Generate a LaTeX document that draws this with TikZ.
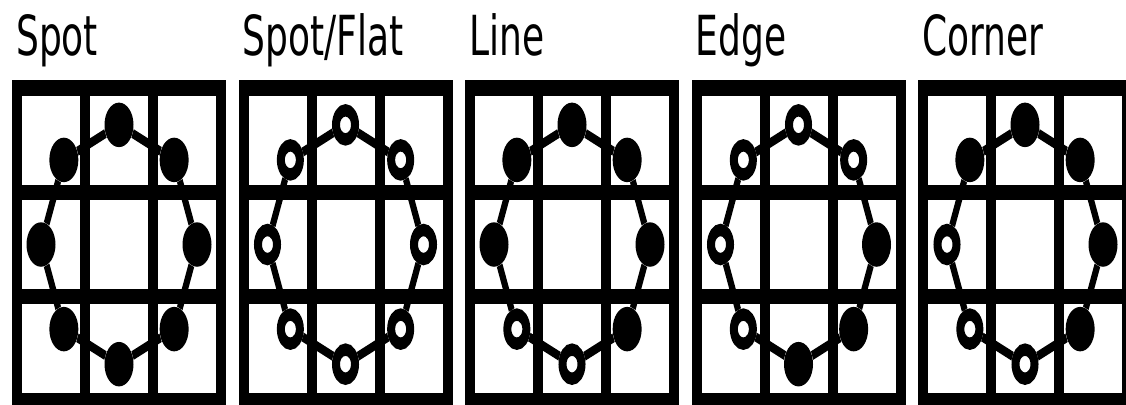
\documentclass[tikz,border=0pt]{standalone}
\usepackage{fontspec}
\setmainfont{DejaVu Sans}
\usetikzlibrary{positioning}
\tikzset{
  bars/.style={draw,line width=10pt},
  ring/.style={draw,line width=6pt},
  v1/.style={circle,fill,inner sep=0pt,minimum size=29pt},
  v0/.style={circle,draw,line width=8pt,fill=white,inner sep=0pt,minimum size=19pt},
  ttl/.style={anchor=base west,inner sep=0pt,font=\fontsize{36}{40}\selectfont},
}

\begin{document}
\begin{tikzpicture}[x=1pt,y=1pt]
  \useasboundingbox (0,0) rectangle (1126,-404);
  \begin{scope}[transform canvas={yscale=1.534}]
  \foreach \i/\name/\pat in {0/Spot/{1,1,1,1,1,1,1,1},
                              1/{Spot/Flat}/{0,0,0,0,0,0,0,0},
                              2/Line/{1,1,1,1,0,0,1,1},
                              3/Edge/{0,0,1,1,1,0,0,0},
                              4/Corner/{1,1,1,1,0,0,0,1}}{
    \begin{scope}[xshift={12+226.5*\i}]
      \node[ttl] (t\i) at (4,-35.9) {\name};
      % 3x3 grid
      \draw[bars] (5,-57.4) rectangle (209,-261.4);
      \foreach \k in {1,2}{
        \draw[bars] (5+68*\k,-57.4) -- (5+68*\k,-261.4);
        \draw[bars] (5,-57.4-68*\k) -- (209,-57.4-68*\k);
      }
      % ring of 8 samples, clockwise from the top
      \begin{scope}[shift={(107,-159.4)}]
        \foreach \s [count=\k] in \pat
          \node[v\s] (p\i-\k) at ({90-45*(\k-1)}:78) {};
      \end{scope}
      \draw[ring] (p\i-1) -- (p\i-2) -- (p\i-3) -- (p\i-4) -- (p\i-5)
                  -- (p\i-6) -- (p\i-7) -- (p\i-8) -- (p\i-1);
    \end{scope}
  }
  \end{scope}
\end{tikzpicture}
\end{document}
